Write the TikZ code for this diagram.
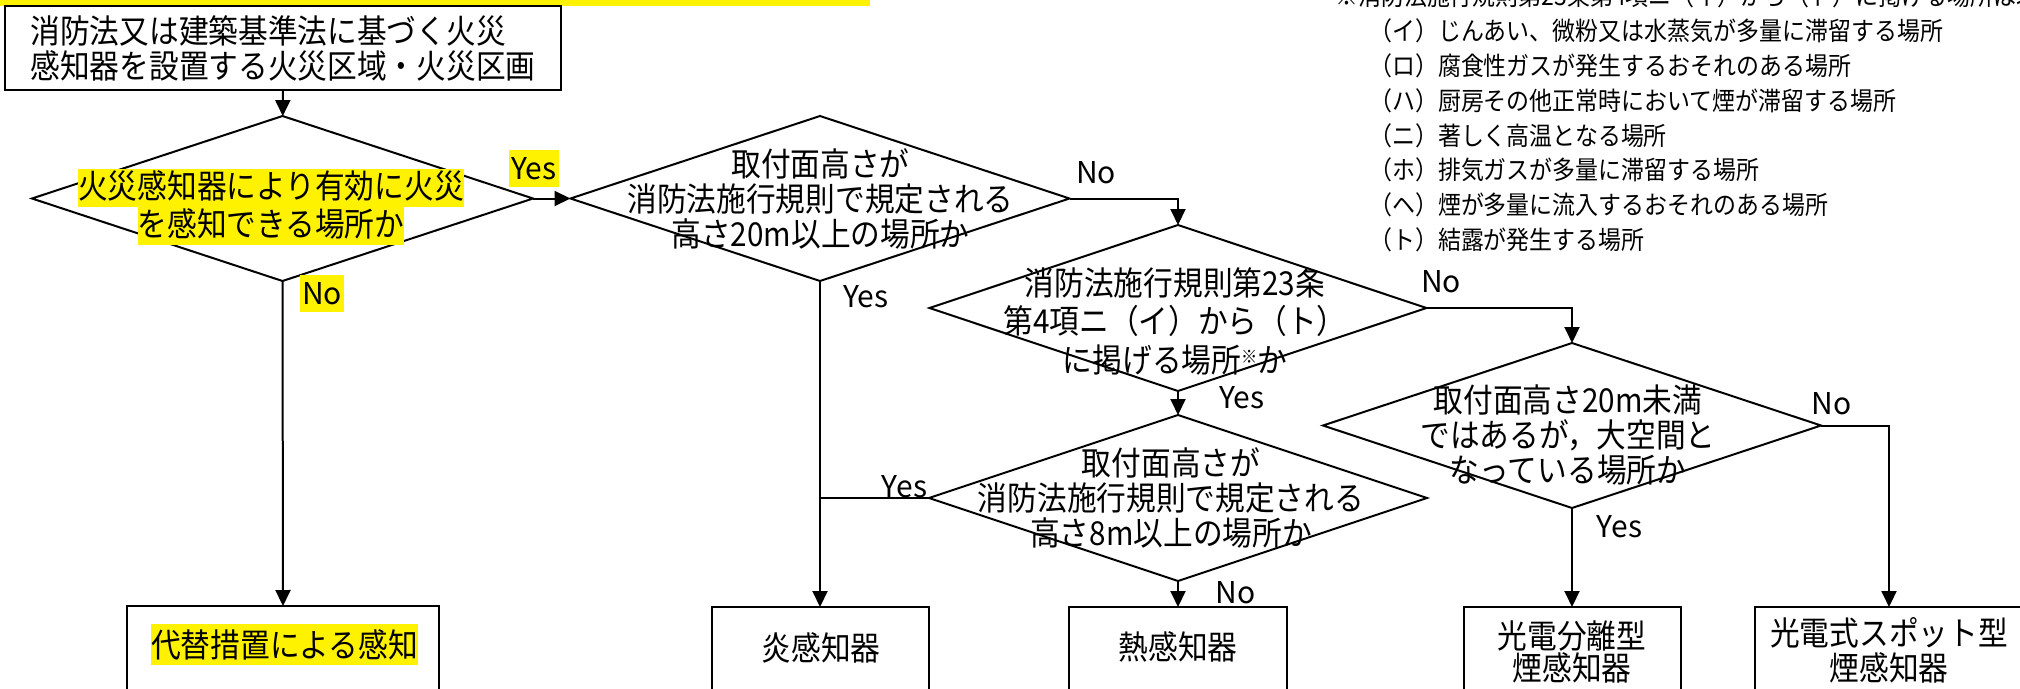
\documentclass[tikz,border=0pt]{standalone}
\usepackage{fontspec}
\setmainfont{Noto Sans CJK JP}[FakeStretch=0.9]
\newfontfamily\lblfont{Noto Sans CJK JP}
\usetikzlibrary{shapes.geometric,arrows.meta}
\newcommand{\hilite}[1]{{\setlength{\fboxsep}{0pt}\colorbox{yellow}{\rule[-9pt]{0pt}{38pt}#1}}}
\begin{document}
\begin{tikzpicture}[x=1pt,y=-1pt,
    decision/.style={draw, diamond, line width=2pt, inner sep=0pt, outer sep=0pt},
    result/.style={draw, rectangle, line width=2pt, anchor=north, minimum height=150pt, inner sep=0pt, outer sep=0pt},
    dtext/.style={align=center, inner sep=0pt, font=\fontsize{33}{35}\selectfont},
    lbl/.style={inner sep=0pt, text height=21.6pt, text depth=0pt, font=\lblfont\fontsize{30}{35}\selectfont},
    hl/.style={lbl, fill=yellow, inner xsep=2.5pt, inner ysep=8pt},
    flow/.style={line width=2pt, -{Triangle[length=16pt,width=15pt]}}]

    \useasboundingbox (0,0) rectangle (2020,688);
    \clip (0,0) rectangle (2020,688);

    % Cut-off lines at the top
    \fill[yellow] (0,0) rectangle (870,6);
    \node[anchor=west, inner sep=0pt, font=\fontsize{25.5}{25.5}\selectfont] (note) at (1335,-4)
        {※消防法施行規則第23条第4項ニ（イ）から（ト）に掲げる場所は以下のとおり};
    \foreach \k/\t in {0/（イ）じんあい、微粉又は水蒸気が多量に滞留する場所,
                       1/（ロ）腐食性ガスが発生するおそれのある場所,
                       2/（ハ）厨房その他正常時において煙が滞留する場所,
                       3/（ニ）著しく高温となる場所,
                       4/（ホ）排気ガスが多量に滞留する場所,
                       5/（ヘ）煙が多量に流入するおそれのある場所,
                       6/（ト）結露が発生する場所} {
        \node[anchor=west, inner sep=0pt, font=\fontsize{25.5}{25.5}\selectfont] (item\k) at (1369,31+34.8*\k) {\t};
    }

    % Start box
    \node[draw, line width=2pt, minimum width=556pt, minimum height=84pt, align=left, inner sep=0pt,
          font=\fontsize{33}{35}\selectfont] (start) at (283,48)
        {消防法又は建築基準法に基づく火災\\感知器を設置する火災区域・火災区画};

    % Decisions
    \node[decision, minimum width=501pt, minimum height=165pt] (qfire) at (282.5,198.5) {};
    \node[decision, minimum width=499pt, minimum height=165pt] (q20m) at (820,198.5) {};
    \node[decision, minimum width=497pt, minimum height=166pt] (q23) at (1178,308) {};
    \node[decision, minimum width=498pt, minimum height=166pt] (q8m) at (1178,498) {};
    \node[decision, minimum width=498pt, minimum height=165pt] (qspace) at (1572,425.5) {};

    \node[dtext, font=\fontsize{33}{38}\selectfont] (qfiret) at (271,207)
        {\hilite{火災感知器により有効に火災}\\\hilite{を感知できる場所か}};
    \node[dtext] (q20mt) at (820.5,199) {取付面高さが\\消防法施行規則で規定される\\高さ20m以上の場所か};
    \node[dtext, font=\fontsize{33}{38.5}\selectfont] (q23t) at (1175,321)
        {消防法施行規則第23条\\第4項ニ（イ）から（ト）\\に掲げる場所{\fontsize{18}{18}\selectfont\raisebox{0.45em}{※}}か};
    \node[dtext] (q8mt) at (1171,498) {取付面高さが\\消防法施行規則で規定される\\高さ8m以上の場所か};
    \node[dtext] (qspacet) at (1568,435) {取付面高さ20m未満\\ではあるが，大空間と\\なっている場所か};

    % Results (cut off at the bottom)
    \node[result, minimum width=312pt] (alt) at (283,606) {};
    \node[result, minimum width=217pt] (flame) at (820,607) {};
    \node[result, minimum width=218pt] (heat) at (1178,607) {};
    \node[result, minimum width=217pt] (beam) at (1572,607) {};
    \node[result, minimum width=268pt] (spot) at (1889,607) {};

    \node[dtext, fill=yellow, minimum height=41pt] (altt) at (284.5,644.5) {代替措置による感知};
    \node[dtext] (flamet) at (821,648) {炎感知器};
    \node[dtext] (heatt) at (1178,647) {熱感知器};
    \node[dtext, font=\fontsize{33}{30}\selectfont] (beamt) at (1572,652) {光電分離型\\煙感知器};
    \node[dtext] (spott) at (1889,650) {光電式スポット型\\煙感知器};

    % Connectors
    \draw[flow] (start) -- (qfire);
    \draw[flow] (qfire.east) -- (q20m.west);
    \draw[flow] (qfire.south) -- (alt.north);
    \draw[flow] (q20m.east) -| (q23.north);
    \draw[flow] (q20m.south) -- (flame.north);
    \draw[flow] (q23.east) -| (qspace.north);
    \draw[flow] (q23.south) -- (q8m.north);
    \coordinate (join) at (q20m.south |- q8m.west);
    \draw[line width=2pt] (q8m.west) -- (join);
    \draw[flow] (q8m.south) -- (heat.north);
    \draw[flow] (qspace.south) -- (beam.north);
    \draw[flow] (qspace.east) -| (spot.north);

    % Yes / No
    \node[hl] (y1) at (534,168.5) {Yes};
    \node[hl] (n1) at (322,293.5) {No};
    \node[lbl] (n2) at (1096,172.5) {No};
    \node[lbl] (y2) at (866,297) {Yes};
    \node[lbl] (n3) at (1441,282) {No};
    \node[lbl] (y3) at (1242,397.5) {Yes};
    \node[lbl] (y4) at (904.5,486.5) {Yes};
    \node[lbl] (n4) at (1235.5,592.5) {No};
    \node[lbl] (n5) at (1831.5,404) {No};
    \node[lbl] (y5) at (1619.5,527) {Yes};

\end{tikzpicture}
\end{document}
